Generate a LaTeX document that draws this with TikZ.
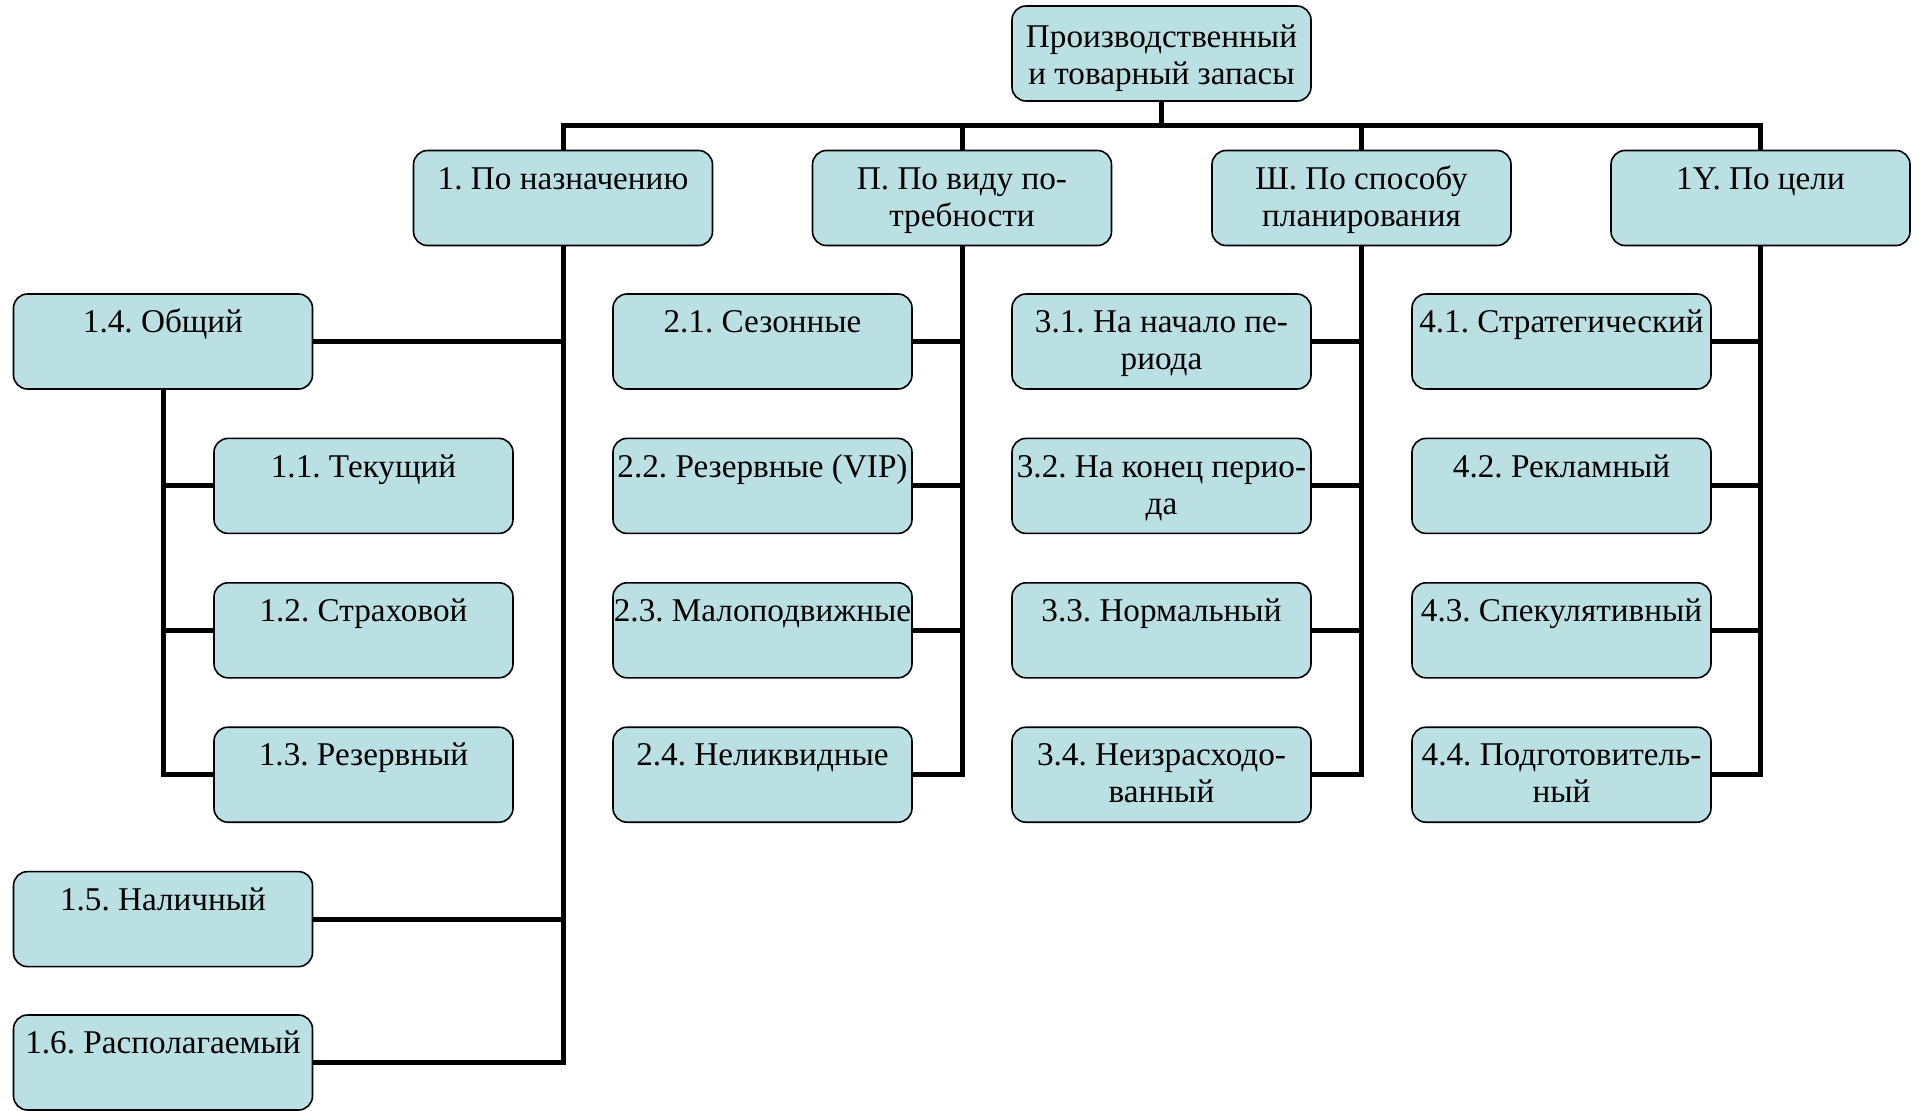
\documentclass[tikz,border=0pt]{standalone}
\usepackage{fontspec}
\setmainfont{Liberation Serif}
\usetikzlibrary{calc}
\definecolor{boxfill}{RGB}{187,224,227}
\frenchspacing

\begin{document}
\begin{tikzpicture}[x=0.5pt,y=-0.5pt,
	box/.style={draw=black, line width=0.8pt, fill=boxfill, rounded corners=7pt,
		minimum width=149.5pt, minimum height=47.5pt, inner sep=0pt,
		font=\fontsize{16.6}{18.5}\selectfont,
		execute at begin node={\begin{minipage}[t][#1][t]{149.5pt}\centering\strut},
		execute at end node={\end{minipage}}},
	box/.default=34.7pt,
	link/.style={line width=2.5pt}]
\useasboundingbox (0,0) rectangle (1919,1110);
\node[box=32.3pt] (top) at (1161.5,53.5) {Производственный\\и товарный запасы};
\node[box] (p1) at (563,198) {1. По назначению};
\node[box] (p2) at (962,198) {П. По виду по-\\требности};
\node[box] (p3) at (1361.5,198) {Ш. По способу\\планирования};
\node[box] (p4) at (1760.5,198) {1Y. По цели};
\node[box] (a4) at (163,341.5) {1.4. Общий};
\node[box] (a1) at (363.5,485.9) {1.1. Текущий};
\node[box] (a2) at (363.5,630.3) {1.2. Страховой};
\node[box] (a3) at (363.5,774.7) {1.3. Резервный};
\node[box] (a5) at (163,919.1) {1.5. Наличный};
\node[box] (a6) at (163,1062.5) {1.6. Располагаемый};
\node[box] (b1) at (762.5,341.5) {2.1. Сезонные};
\node[box] (b2) at (762.5,485.9) {2.2. Резервные (VIP)};
\node[box] (b3) at (762.5,630.3) {\makebox[\linewidth]{2.3. Малоподвижные}};
\node[box] (b4) at (762.5,774.7) {2.4. Неликвидные};
\node[box] (c1) at (1161.5,341.5) {3.1. На начало пе-\\риода};
\node[box] (c2) at (1161.5,485.9) {3.2. На конец перио-\\да};
\node[box] (c3) at (1161.5,630.3) {3.3. Нормальный};
\node[box] (c4) at (1161.5,774.7) {3.4. Неизрасходо-\\ванный};
\node[box] (d1) at (1561.5,341.5) {4.1. Стратегический};
\node[box] (d2) at (1561.5,485.9) {4.2. Рекламный};
\node[box] (d3) at (1561.5,630.3) {4.3. Спекулятивный};
\node[box] (d4) at (1561.5,774.7) {4.4. Подготовитель-\\ный};
\coordinate (bus) at (0,125);
\draw[link] (p1.north) |- (top.south |- bus) -- (top.south);
\draw[link] (p2.north) |- (top.south |- bus);
\draw[link] (p3.north) |- (top.south |- bus);
\draw[link] (p4.north) |- (top.south |- bus);
\draw[link] (p1.south) |- (a4.east);
\draw[link] (p1.south) |- (a5.east);
\draw[link] (p1.south) |- (a6.east);
\draw[link] (a4.south) |- (a1.west);
\draw[link] (a4.south) |- (a2.west);
\draw[link] (a4.south) |- (a3.west);
\draw[link] (p2.south) |- (b1.east);
\draw[link] (p2.south) |- (b2.east);
\draw[link] (p2.south) |- (b3.east);
\draw[link] (p2.south) |- (b4.east);
\draw[link] (p3.south) |- (c1.east);
\draw[link] (p3.south) |- (c2.east);
\draw[link] (p3.south) |- (c3.east);
\draw[link] (p3.south) |- (c4.east);
\draw[link] (p4.south) |- (d1.east);
\draw[link] (p4.south) |- (d2.east);
\draw[link] (p4.south) |- (d3.east);
\draw[link] (p4.south) |- (d4.east);
\end{tikzpicture}
\end{document}
